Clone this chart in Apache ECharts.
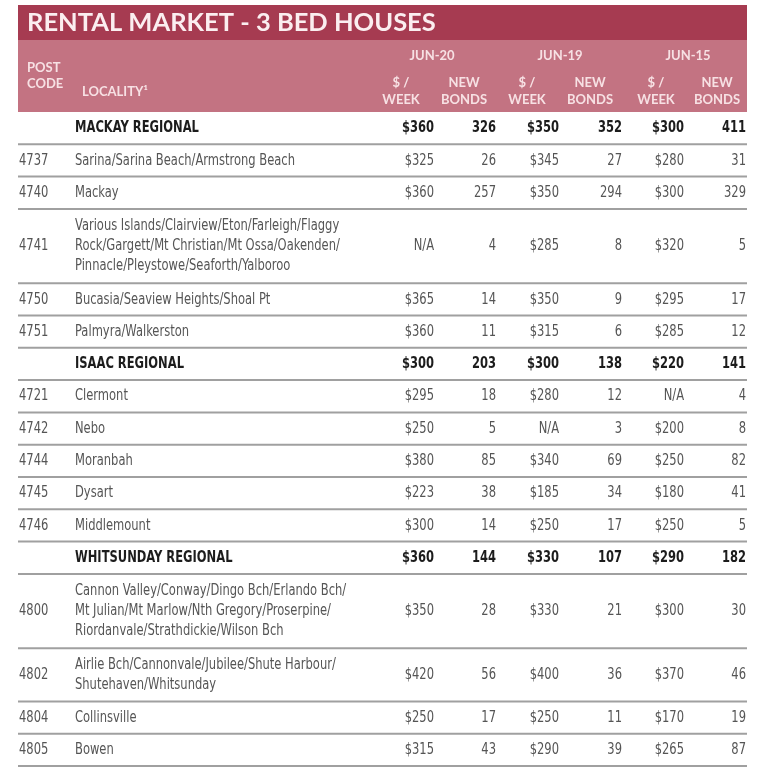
<!DOCTYPE html>
<html>
<head>
<meta charset="utf-8">
<script src="https://cdn.jsdelivr.net/npm/echarts@6/dist/echarts.min.js"></script>
<style>html,body{margin:0;padding:0;background:#fff;}#c{width:768px;height:768px;}</style>
</head>
<body>
<div id="c"></div>
<script>
// ---- Data ----
const titleText = 'RENTAL MARKET - 3 BED HOUSES';
const periods = ['JUN-20', 'JUN-19', 'JUN-15'];
const subHeaders = ['$ /\nWEEK', 'NEW\nBONDS'];
const postcodes = ['', '4737', '4740', '4741', '4750', '4751', '', '4721', '4742', '4744', '4745', '4746', '', '4800', '4802', '4804', '4805'];
const localities = [
  'MACKAY REGIONAL',
  'Sarina/Sarina Beach/Armstrong Beach',
  'Mackay',
  'Various Islands/Clairview/Eton/Farleigh/Flaggy\nRock/Gargett/Mt Christian/Mt Ossa/Oakenden/\nPinnacle/Pleystowe/Seaforth/Yalboroo',
  'Bucasia/Seaview Heights/Shoal Pt',
  'Palmyra/Walkerston',
  'ISAAC REGIONAL',
  'Clermont',
  'Nebo',
  'Moranbah',
  'Dysart',
  'Middlemount',
  'WHITSUNDAY REGIONAL',
  'Cannon Valley/Conway/Dingo Bch/Erlando Bch/\nMt Julian/Mt Marlow/Nth Gregory/Proserpine/\nRiordanvale/Strathdickie/Wilson Bch',
  'Airlie Bch/Cannonvale/Jubilee/Shute Harbour/\nShutehaven/Whitsunday',
  'Collinsville',
  'Bowen'
];
const weekJun20  = [360, 325, 360, null, 365, 360, 300, 295, 250, 380, 223, 300, 360, 350, 420, 250, 315];
const bondsJun20 = [326, 26, 257, 4, 14, 11, 203, 18, 5, 85, 38, 14, 144, 28, 56, 17, 43];
const weekJun19  = [350, 345, 350, 285, 350, 315, 300, 280, null, 340, 185, 250, 330, 330, 400, 250, 290];
const bondsJun19 = [352, 27, 294, 8, 9, 6, 138, 12, 3, 69, 34, 17, 107, 21, 36, 11, 39];
const weekJun15  = [300, 280, 300, 320, 295, 285, 220, null, 200, 250, 180, 250, 290, 300, 370, 170, 265];
const bondsJun15 = [411, 31, 329, 5, 17, 12, 141, 4, 8, 82, 41, 5, 182, 30, 46, 19, 87];
const regionalRows = [0, 6, 12];

// ---- Layout (styles / positions) ----
const TABLE_LEFT = 18, TABLE_WIDTH = 729, TABLE_TOP = 112, TABLE_HEIGHT = 654;
const ROW_BASE = 32.3, LINE_EXTRA = 21;
const BODY_FONT = "'Liberation Sans Narrow','DejaVu Sans Condensed',sans-serif";
const HEAD_FONT = "Lato, 'Open Sans', sans-serif";
const BODY_SCALE_X = 0.8;
// column anchors in table units (offset from table left)
const COL_POST = 1, COL_LOC = 57;
const valueCols = [416, 478, 541, 604, 666, 728];
const valueSeries = [weekJun20, bondsJun20, weekJun19, bondsJun19, weekJun15, bondsJun15];

const rows = [];
let acc = 0;
localities.forEach((loc, i) => {
  const lines = loc.split('\n').length;
  const h = ROW_BASE + LINE_EXTRA * (lines - 1);
  rows.push([i, acc, acc + h]);
  acc += h;
});

function fmtVal(col, v) {
  if (v === null || v === undefined) return 'N/A';
  return col % 2 === 0 ? '$' + v : String(v);
}

const chart = echarts.init(document.getElementById('c'), null, {renderer: 'canvas'});

const HEAD_FILL = '#f7e1e4';
const headerGraphics = [
  {type: 'rect', shape: {x: 18, y: 5, width: 729, height: 35}, style: {fill: '#a63b51'}},
  {type: 'rect', shape: {x: 18, y: 40, width: 729, height: 72}, style: {fill: '#c37382'}},
  {type: 'text', x: 27, y: 23, style: {text: titleText, fill: '#fbeef0', font: "bold 25.5px " + HEAD_FONT, verticalAlign: 'middle'}},
  {type: 'text', x: 27, y: 68, style: {text: 'POST', fill: HEAD_FILL, font: "bold 13px " + HEAD_FONT, verticalAlign: 'middle'}},
  {type: 'text', x: 27, y: 84, style: {text: 'CODE', fill: HEAD_FILL, font: "bold 13px " + HEAD_FONT, verticalAlign: 'middle'}},
  {type: 'text', x: 82, y: 92, style: {text: 'LOCALITY¹', fill: HEAD_FILL, font: "bold 13px " + HEAD_FONT, verticalAlign: 'middle'}}
];
const periodCenters = [432, 560, 688];
const subCenters = [[401, 464], [527, 590], [656, 717]];
periods.forEach((p, k) => {
  headerGraphics.push({type: 'text', x: periodCenters[k], y: 56, style: {text: p, fill: HEAD_FILL, font: "bold 13px " + HEAD_FONT, align: 'center', verticalAlign: 'middle'}});
  subHeaders.forEach((s, j) => {
    headerGraphics.push({type: 'text', x: subCenters[k][j], y: 91.5, style: {text: s, fill: HEAD_FILL, font: "bold 13px " + HEAD_FONT, align: 'center', verticalAlign: 'middle', lineHeight: 17}});
  });
});

chart.setOption({
  animation: false,
  backgroundColor: '#ffffff',
  grid: {left: TABLE_LEFT, top: TABLE_TOP, width: TABLE_WIDTH, height: TABLE_HEIGHT, show: false},
  xAxis: {type: 'value', min: 0, max: TABLE_WIDTH, show: false},
  yAxis: {type: 'value', min: 0, max: TABLE_HEIGHT, inverse: true, show: false},
  graphic: headerGraphics,
  series: [{
    type: 'custom',
    silent: true,
    clip: false,
    data: rows,
    encode: {x: -1, y: [1, 2]},
    renderItem: function (params, api) {
      const i = api.value(0);
      const y0 = api.value(1), y1 = api.value(2);
      const yc = (y0 + y1) / 2;
      const bold = regionalRows.indexOf(i) >= 0;
      const color = bold ? '#1c1c1c' : '#555555';
      const font = (bold ? 'bold ' : '') + '16px ' + BODY_FONT;
      const children = [];
      const pL = api.coord([0, y1]);
      const pR = api.coord([TABLE_WIDTH, y1]);
      children.push({type: 'line', shape: {x1: pL[0], y1: pL[1], x2: pR[0], y2: pR[1]}, style: {stroke: '#a0a0a0', lineWidth: 2}});
      const pc = api.coord([COL_POST, yc]);
      children.push({type: 'text', x: pc[0], y: pc[1], scaleX: BODY_SCALE_X, style: {text: postcodes[i], fill: color, font: font, verticalAlign: 'middle'}});
      const lc = api.coord([COL_LOC, yc]);
      children.push({type: 'text', x: lc[0], y: lc[1], scaleX: BODY_SCALE_X, style: {text: localities[i], fill: color, font: font, verticalAlign: 'middle', lineHeight: 20}});
      valueSeries.forEach((arr, c) => {
        const vc = api.coord([valueCols[c], yc]);
        children.push({type: 'text', x: vc[0], y: vc[1], scaleX: BODY_SCALE_X, style: {text: fmtVal(c, arr[i]), fill: color, font: font, align: 'right', verticalAlign: 'middle'}});
      });
      return {type: 'group', children: children};
    }
  }]
});
</script>
</body>
</html>
